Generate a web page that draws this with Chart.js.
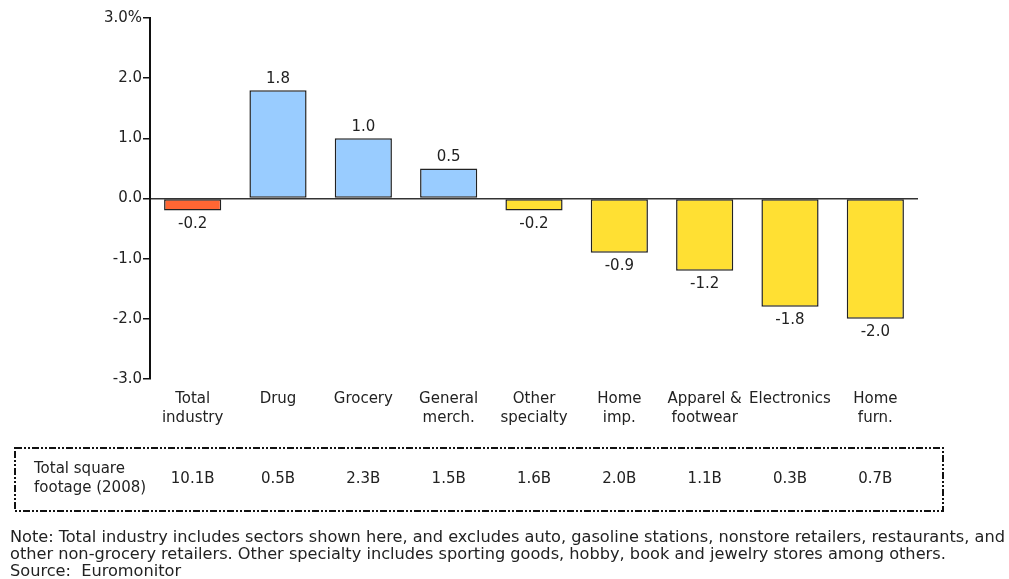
<!DOCTYPE html>
<html>
<head>
<meta charset="utf-8">
<script src="https://cdn.jsdelivr.net/npm/chart.js@4/dist/chart.umd.min.js"></script>
<style>
  html, body { margin: 0; padding: 0; background: #fff; }
  #wrap { width: 1009px; height: 579px; position: relative; }
</style>
</head>
<body>
<div id="wrap"><canvas id="c" width="1009" height="579"></canvas></div>
<script>
// Sectors, growth in store square footage (%), and 2008 base footage
const categories = [
  ['Total', 'industry'], ['Drug'], ['Grocery'], ['General', 'merch.'],
  ['Other', 'specialty'], ['Home', 'imp.'], ['Apparel &', 'footwear'],
  ['Electronics'], ['Home', 'furn.']
];
const growth = [-0.2, 1.8, 1.0, 0.5, -0.2, -0.9, -1.2, -1.8, -2.0];
const squareFootage = ['10.1B', '0.5B', '2.3B', '1.5B', '1.6B', '2.0B', '1.1B', '0.3B', '0.7B'];
const yTicks = [-3, -2, -1, 0, 1, 2, 3];
const barColors = ['#FF6633', '#99CCFF', '#99CCFF', '#99CCFF', '#FFE033', '#FFE033', '#FFE033', '#FFE033', '#FFE033'];
const tableTitle = ['Total square', 'footage (2008)'];
const notes = [
  'Note: Total industry includes sectors shown here, and excludes auto, gasoline stations, nonstore retailers, restaurants, and',
  'other non-grocery retailers. Other specialty includes sporting goods, hobby, book and jewelry stores among others.',
  'Source:  Euromonitor'
];

const FONT = '"DejaVu Sans", Verdana, sans-serif';
const NOTE_FONT = '"Liberation Sans Narrow", "DejaVu Sans Condensed", "Arial Narrow", sans-serif';

// Value labels above positive bars and below negative bars
const valueLabels = {
  id: 'valueLabels',
  afterDatasetsDraw(chart) {
    const ctx = chart.ctx;
    const meta = chart.getDatasetMeta(0);
    ctx.save();
    ctx.font = '15px ' + FONT;
    ctx.fillStyle = '#222';
    ctx.textAlign = 'center';
    meta.data.forEach((bar, i) => {
      const v = growth[i];
      if (v >= 0) {
        ctx.textBaseline = 'bottom';
        ctx.fillText(v.toFixed(1), bar.x, bar.y - 4);
      } else {
        ctx.textBaseline = 'top';
        ctx.fillText(v.toFixed(1), bar.x, bar.y + 6);
      }
    });
    ctx.restore();
  }
};

// Footage table under the axis and the footnote text
const footer = {
  id: 'footer',
  afterDraw(chart) {
    const ctx = chart.ctx;
    const xs = chart.scales.x;
    ctx.save();
    // dashed frame
    ctx.strokeStyle = '#111';
    ctx.lineWidth = 2;
    ctx.setLineDash([7, 2, 2, 2, 2, 2]);
    ctx.strokeRect(15, 448, 928, 63);
    ctx.setLineDash([]);

    ctx.fillStyle = '#222';
    ctx.font = '15px ' + FONT;
    ctx.textBaseline = 'middle';
    ctx.textAlign = 'left';
    ctx.fillText(tableTitle[0], 34, 469);
    ctx.fillText(tableTitle[1], 34, 488);
    ctx.textAlign = 'center';
    squareFootage.forEach((s, i) => {
      ctx.fillText(s, xs.getPixelForValue(i), 479);
    });

    // footnote, stretched to the full text width
    ctx.textAlign = 'left';
    ctx.font = '16px ' + NOTE_FONT;
    const sx = 995 / ctx.measureText(notes[0]).width;
    notes.forEach((line, i) => {
      ctx.save();
      ctx.translate(10, 538 + i * 17);
      ctx.scale(sx, 1);
      ctx.fillText(line, 0, 0);
      ctx.restore();
    });
    ctx.restore();
  }
};

new Chart(document.getElementById('c'), {
  type: 'bar',
  data: {
    labels: categories,
    datasets: [{
      data: growth,
      backgroundColor: barColors,
      borderColor: '#222',
      borderWidth: 1.5,
      borderSkipped: false,
      categoryPercentage: 1,
      barPercentage: 0.67
    }]
  },
  options: {
    responsive: false,
    animation: false,
    devicePixelRatio: 1,
    layout: { padding: { top: 18, right: 91, left: 0, bottom: 0 } },
    plugins: { legend: { display: false }, tooltip: { enabled: false } },
    scales: {
      x: {
        grid: { display: false },
        border: { display: false },
        ticks: {
          color: '#222',
          font: { family: FONT, size: 15, lineHeight: 1.3 },
          padding: 2,
          maxRotation: 0,
          autoSkip: false
        },
        afterFit(scale) { scale.height = 200; }
      },
      y: {
        min: -3,
        max: 3,
        afterBuildTicks(scale) { scale.ticks = yTicks.map(v => ({ value: v })); },
        grid: {
          drawOnChartArea: true,
          color: ctx => (ctx.tick && ctx.tick.value === 0) ? '#333' : 'rgba(0,0,0,0)',
          lineWidth: 1.5,
          tickColor: '#111',
          tickLength: 7,
          tickWidth: 1.5
        },
        border: { display: true, color: '#111', width: 2 },
        ticks: {
          color: '#222',
          font: { family: FONT, size: 15 },
          padding: 1,
          callback: v => v === 3 ? '3.0%' : Number(v).toFixed(1)
        },
        afterFit(scale) { scale.width = 150; }
      }
    }
  },
  plugins: [valueLabels, footer]
});
</script>
</body>
</html>
